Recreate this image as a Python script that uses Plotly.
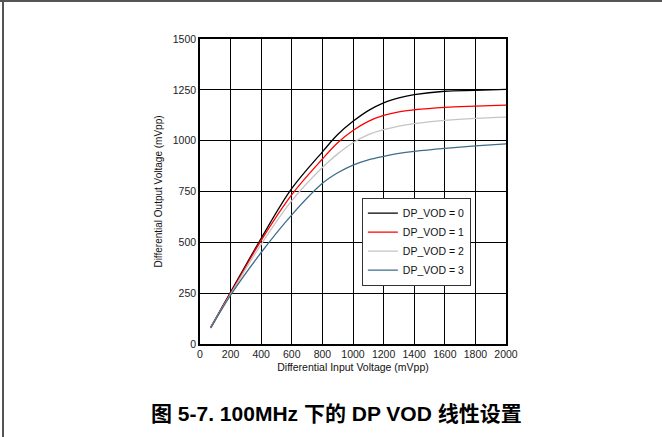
import plotly.graph_objects as go

x_in = [70, 200, 400, 600, 800, 900, 1000, 1100, 1200, 1300, 1400, 1600, 1800, 2000]
vod0 = [82, 255, 520, 765, 945, 1030, 1095, 1148, 1186, 1210, 1226, 1243, 1247, 1252]
vod1 = [82, 250, 510, 735, 910, 990, 1050, 1095, 1124, 1142, 1152, 1164, 1170, 1175]
vod2 = [80, 245, 490, 705, 868, 935, 990, 1030, 1054, 1072, 1084, 1100, 1110, 1116]
vod3 = [78, 240, 450, 635, 790, 842, 880, 906, 923, 937, 947, 962, 974, 984]

series = [
    ("DP_VOD = 0", vod0, "#000000"),
    ("DP_VOD = 1", vod1, "#ff0000"),
    ("DP_VOD = 2", vod2, "#c4c4c4"),
    ("DP_VOD = 3", vod3, "#3d6d8c"),
]

x_ticks = [0, 200, 400, 600, 800, 1000, 1200, 1400, 1600, 1800, 2000]
y_ticks = [0, 250, 500, 750, 1000, 1250, 1500]

fig = go.Figure()
for name, vals, col in series:
    fig.add_trace(go.Scatter(x=x_in, y=vals, name=name, mode="lines",
                             line=dict(color=col, width=1.3, shape="spline", smoothing=1.0)))

font = "Liberation Sans, Arial, sans-serif"
fig.update_layout(
    width=662, height=437,
    margin=dict(l=200, r=156, t=39, b=93),
    paper_bgcolor="white", plot_bgcolor="white",
    font=dict(family=font, size=10, color="#222222"),
    showlegend=True,
    legend=dict(x=0.529, y=0.48, xanchor="left", yanchor="top",
                bordercolor="#333333", borderwidth=1, bgcolor="white",
                font=dict(size=10.5, color="#111111"),
                tracegroupgap=0, itemwidth=30),
    xaxis=dict(range=[0, 2000], tickvals=x_ticks, ticktext=[str(v) for v in x_ticks],
               showgrid=True, gridcolor="#000000", gridwidth=1.3,
               showline=True, linecolor="#000000", linewidth=1.5, mirror=True,
               ticks="", zeroline=False, tickfont=dict(size=10.5, color="#222222"),
               title=dict(text="Differential Input Voltage (mVpp)", standoff=4,
                          font=dict(size=10.5, color="#111111"))),
    yaxis=dict(range=[0, 1500], tickvals=y_ticks, ticktext=[str(v) for v in y_ticks],
               showgrid=True, gridcolor="#000000", gridwidth=1.3,
               showline=True, linecolor="#000000", linewidth=1.5, mirror=True,
               ticks="", zeroline=False, tickfont=dict(size=10.5, color="#222222"),
               title=dict(text="Differential Output Voltage (mVpp)", standoff=8,
                          font=dict(size=10, color="#111111"))),
    shapes=[
        dict(type="line", xref="paper", yref="paper", x0=-200/306, x1=462/306,
             y0=1 + 38/305, y1=1 + 38/305, line=dict(color="#555555", width=2)),
        dict(type="line", xref="paper", yref="paper", x0=-197/306, x1=-197/306,
             y0=1 + 38/305, y1=-93/305, line=dict(color="#555555", width=2)),
    ],
    annotations=[
        dict(text="<b>图 5-7. 100MHz 下的 DP VOD 线性设置</b>", xref="paper", yref="paper",
             x=(336 - 200) / 306, y=(344 - 413) / 305, xanchor="center", yanchor="middle",
             showarrow=False,
             font=dict(family="Liberation Sans, Noto Sans CJK SC, sans-serif", size=21, color="#000000")),
    ],
)

fig.write_html("out.html")
